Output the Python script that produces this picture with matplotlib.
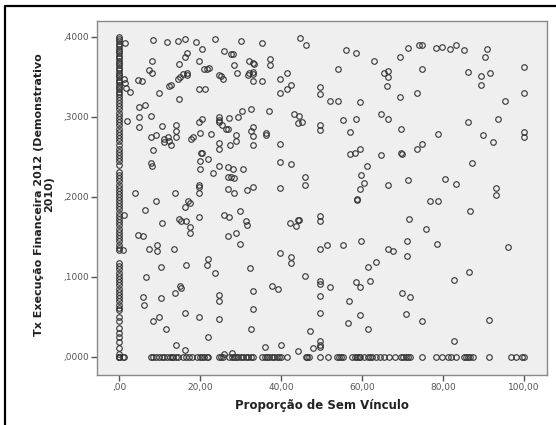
import matplotlib
matplotlib.use("Agg")
import matplotlib.pyplot as plt
from matplotlib.lines import Line2D
from matplotlib.ticker import FuncFormatter

# ---------------- data ----------------
# column of points at x = 0
col_y = [0.400, 0.397, 0.394, 0.391, 0.388, 0.385, 0.382, 0.379, 0.376, 0.373,
         0.370, 0.367, 0.364, 0.361, 0.358, 0.355, 0.352, 0.349, 0.346, 0.343,
         0.340, 0.337, 0.334, 0.331, 0.328, 0.325, 0.321, 0.317, 0.313, 0.309,
         0.305, 0.301, 0.297, 0.293, 0.289, 0.285, 0.281, 0.277, 0.273, 0.270,
         0.264, 0.260, 0.256, 0.252, 0.248, 0.244, 0.240,
         0.231, 0.227, 0.223, 0.219, 0.215, 0.211, 0.207, 0.203, 0.200,
         0.196, 0.192, 0.188, 0.184, 0.180, 0.176, 0.172,
         0.168, 0.164, 0.160, 0.156, 0.152, 0.148, 0.144, 0.140, 0.136, 0.133,
         0.117, 0.113, 0.109, 0.105, 0.101, 0.097, 0.093, 0.089, 0.085, 0.081,
         0.077, 0.073, 0.069, 0.065, 0.061, 0.058,
         0.050, 0.044, 0.036, 0.029, 0.024, 0.018, 0.011, 0.003, 0.0, 0.0]

# row of points at y = 0
row_x = [0.0, 0.0, 1.05, 7.9, 8.5, 9.2, 9.9, 10.5, 11.2, 11.9, 12.5, 13.0, 13.4,
         14.0, 14.6, 15.8, 16.5, 17.3, 18.0, 19.3, 19.9, 20.4, 21.1, 21.7, 22.1,
         24.7, 25.2, 25.6, 27.2, 27.8, 28.3, 28.9, 29.5, 30.1, 30.7, 31.3, 31.8,
         32.5, 33.1, 35.3, 36.0, 36.6, 37.1, 37.7, 38.2, 38.9, 39.5, 40.1, 41.6,
         46.1, 46.5, 47.0, 49.7, 51.5, 53.9, 54.4, 54.8, 55.3, 57.6, 58.2, 58.7,
         59.2, 59.6, 60.4, 61.6, 62.0, 62.5, 63.4, 64.4, 65.5, 66.7, 68.2, 69.6,
         70.2, 70.8, 71.3, 71.9, 74.8, 78.2, 79.8, 81.2, 82.0, 83.2, 85.3, 85.8,
         86.2, 86.7, 87.5, 91.5, 96.8, 98.1, 99.5, 100.0]

# scattered points (x, y)
pts_x = [1.5, 8.4, 11.9, 14.6, 16.4, 19.0, 23.7, 30.2, 35.4, 44.6, 46.2,
         20.4, 25.9, 27.7, 28.2, 16.8, 16.4, 8.1, 19.7, 28.3, 32.1, 33.1, 33.3,
         37.4, 37.4, 56.1, 58.6, 62.9, 69.3, 71.3, 74.0, 74.8, 78.2, 79.8, 81.7,
         83.2, 85.2, 90.8, 90.3, 99.9, 99.9, 74.8, 86.2, 89.3, 91.7, 89.5, 95.4,
         93.5, 86.1, 89.9, 92.3, 100.0, 100.0, 87.3, 93.2, 93.2, 86.7, 96.0,
         86.4, 82.7, 91.5, 82.7, 80.6, 83.2, 78.6, 76.7, 78.7, 75.7, 78.7,
         73.5, 74.8, 73.7, 69.3, 69.7, 69.7, 69.9, 71.3, 71.6, 71.2, 71.2, 69.8,
         71.9, 70.8, 74.8, 66.5, 66.5, 66.1, 65.4, 64.7, 66.5, 64.7, 66.5,
         66.5, 67.7, 63.4, 61.4, 62.1, 61.5, 59.6, 58.6, 59.5, 58.2, 57.0,
         57.0, 61.2, 59.7, 60.6, 59.6, 58.8, 58.9, 59.7, 58.6, 59.6, 56.8,
         59.6, 56.6, 54.2, 52.1, 54.2, 55.3, 49.7, 49.7, 49.7, 49.7, 49.7,
         49.7, 49.7, 51.3, 55.3, 49.7, 49.7, 52.1, 49.7, 49.7, 49.7, 49.7,
         49.7, 47.9, 47.1, 46.0, 46.0, 46.0, 44.2, 44.4, 43.6, 42.3, 42.6,
         42.6, 42.6, 39.8, 39.8, 39.8, 39.8, 37.8, 39.2, 36.1, 39.9, 44.3,
         43.2, 44.4, 44.3, 45.3, 41.6, 42.6, 41.4, 39.8, 39.8, 37.1, 35.4,
         36.2, 36.2, 33.2, 33.2, 33.2, 32.7, 33.1, 33.1, 33.1, 32.5, 31.9,
         32.1, 30.5, 29.2, 29.0, 29.0, 27.1, 29.3, 27.0, 26.5, 27.3, 24.6,
         25.1, 25.8, 24.6, 24.6, 24.8, 25.4, 24.6, 24.6, 22.7, 23.2, 24.8,
         26.8, 28.2, 27.0, 27.7, 28.3, 27.0, 28.3, 30.6, 31.5, 33.1, 29.8,
         25.9, 27.2, 26.9, 29.0, 29.8, 31.3, 31.6, 32.4, 33.1, 33.1, 32.5,
         24.6, 24.6, 24.6, 23.6, 22.0, 21.8, 22.0, 19.7, 19.7, 19.7, 19.8,
         19.7, 19.9, 19.9, 20.3, 20.6, 22.0, 19.9, 19.8, 20.4, 19.7, 21.3,
         21.1, 21.8, 22.2, 17.9, 18.3, 17.0, 17.6, 16.4, 16.5, 17.5, 17.5,
         14.9, 15.4, 16.5, 15.1, 15.3, 13.9, 16.4, 14.0, 16.4, 13.6, 13.9,
         12.8, 14.0, 14.2, 14.2, 14.9, 14.5, 15.1, 15.8, 14.7, 16.7, 16.7,
         9.8, 12.3, 12.9, 12.3, 11.1, 11.2, 12.1, 10.7, 9.2, 7.9, 8.5, 8.0,
         8.2, 8.0, 7.5, 8.2, 4.8, 5.8, 5.0, 6.4, 5.0, 5.0, 2.7, 1.3, 1.9,
         3.9, 6.4, 9.1, 1.3, 4.6, 6.0, 7.5, 9.3, 9.3, 10.7, 10.4, 1.1, 6.6,
         5.9, 6.3, 10.4, 8.5, 9.9, 11.5, 25.9, 28.0, 1.2, 1.6, 1.8]
pts_y = [0.392, 0.396, 0.393, 0.394, 0.397, 0.393, 0.397, 0.395, 0.392, 0.398, 0.389,
         0.385, 0.382, 0.378, 0.378, 0.379, 0.375, 0.370, 0.369, 0.364, 0.370, 0.367, 0.366,
         0.372, 0.365, 0.383, 0.380, 0.370, 0.374, 0.386, 0.389, 0.390, 0.386, 0.3875, 0.384,
         0.389, 0.383, 0.385, 0.375, 0.3625, 0.330, 0.360, 0.356, 0.351, 0.355, 0.340, 0.320,
         0.2975, 0.293, 0.2775, 0.268, 0.281, 0.275, 0.242, 0.211, 0.2025, 0.182, 0.1375,
         0.106, 0.096, 0.046, 0.020, 0.222, 0.216, 0.141, 0.195, 0.195, 0.160, 0.278,
         0.260, 0.266, 0.329, 0.325, 0.284, 0.255, 0.2535, 0.221, 0.172, 0.145, 0.126, 0.079,
         0.074, 0.053, 0.044, 0.357, 0.350, 0.338, 0.354, 0.303, 0.297, 0.252, 0.214,
         0.135, 0.132, 0.118, 0.1125, 0.095, 0.035, 0.318, 0.297, 0.259, 0.255, 0.253,
         0.281, 0.238, 0.227, 0.217, 0.209, 0.196, 0.1965, 0.145, 0.093, 0.0875, 0.070,
         0.052, 0.042, 0.359, 0.320, 0.319, 0.296, 0.3375, 0.328, 0.290, 0.283, 0.176,
         0.170, 0.134, 0.139, 0.139, 0.094, 0.091, 0.087, 0.076, 0.055, 0.019, 0.015,
         0.0125, 0.0104, 0.0325, 0.101, 0.2245, 0.214, 0.171, 0.171, 0.163, 0.167, 0.125,
         0.117, 0.241, 0.243, 0.266, 0.211, 0.130, 0.088, 0.084, 0.0117, 0.0146, 0.0075,
         0.303, 0.301, 0.292, 0.293, 0.354, 0.340, 0.335, 0.347, 0.329, 0.307, 0.345,
         0.280, 0.2775, 0.345, 0.356, 0.353, 0.310, 0.287, 0.276, 0.265, 0.282, 0.352,
         0.355, 0.3075, 0.355, 0.2775, 0.270, 0.298, 0.300, 0.285, 0.284, 0.264, 0.352,
         0.351, 0.347, 0.299, 0.296, 0.293, 0.289, 0.2675, 0.260, 0.278, 0.230, 0.238,
         0.237, 0.234, 0.225, 0.2245, 0.223, 0.210, 0.204, 0.235, 0.208, 0.212, 0.182,
         0.1775, 0.1746, 0.151, 0.154, 0.141, 0.169, 0.164, 0.111, 0.0825, 0.059, 0.035,
         0.077, 0.070, 0.0467, 0.104, 0.122, 0.1146, 0.024, 0.050, 0.1746, 0.215, 0.2125,
         0.205, 0.245, 0.235, 0.254, 0.254, 0.247, 0.279, 0.293, 0.297, 0.335, 0.334,
         0.359, 0.360, 0.361, 0.2717, 0.2746, 0.194, 0.192, 0.187, 0.169, 0.1625, 0.155,
         0.1717, 0.169, 0.114, 0.088, 0.086, 0.079, 0.054, 0.015, 0.0083, 0.134, 0.205,
         0.265, 0.290, 0.282, 0.2746, 0.3225, 0.347, 0.350, 0.353, 0.366, 0.352, 0.355,
         0.330, 0.338, 0.340, 0.270, 0.268, 0.2717, 0.2746, 0.288, 0.2775, 0.2746, 0.258, 0.242,
         0.238, 0.3004, 0.358, 0.354, 0.346, 0.344, 0.3125, 0.314, 0.300, 0.287, 0.331, 0.3475, 0.2946,
         0.204, 0.183, 0.194, 0.177, 0.1525, 0.151, 0.135, 0.140, 0.1325, 0.1675, 0.1125, 0.133, 0.0996,
         0.075, 0.064, 0.073, 0.044, 0.049, 0.035, 0.0033, 0.004, 0.0, 0.342, 0.336]

# axis tick values
x_ticks = [0, 20, 40, 60, 80, 100]
y_ticks = [0.0, 0.1, 0.2, 0.3, 0.4]

xs = [0.0] * len(col_y) + row_x + pts_x
ys = col_y + [0.0] * len(row_x) + pts_y[:len(pts_x)]

# ---------------- figure ----------------
W, H = 556, 425
fig = plt.figure(figsize=(W / 100, H / 100), dpi=100)
fig.patch.set_facecolor("white")

left, right, top, bottom = 97, 547, 20.7, 375
ax = fig.add_axes([left / W, 1 - bottom / H, (right - left) / W, (bottom - top) / H])
ax.set_facecolor("#efefef")

ax.plot(xs, ys, linestyle="none", marker="o", markersize=4.0,
        markerfacecolor="none", markeredgecolor="#333333", markeredgewidth=0.8)

ax.set_xlim(-5.43, 105.7)
ax.set_ylim(-0.0229, 0.42)
ax.set_xticks(x_ticks)
ax.set_yticks(y_ticks)
ax.xaxis.set_major_formatter(FuncFormatter(lambda v, p: f"{v:.2f}".replace(".", ",").lstrip("0") if v == 0 else f"{v:.2f}".replace(".", ",")))
ax.yaxis.set_major_formatter(FuncFormatter(lambda v, p: f"{v:.4f}".replace("0.", ",", 1)))

for s in ax.spines.values():
    s.set_color("#8a8a8a")
    s.set_linewidth(1.0)
ax.tick_params(axis="both", direction="out", length=4, width=1.0, color="#555555",
               labelsize=6.5, labelcolor="#555555", pad=2)

ax.set_xlabel("Proporção de Sem Vínculo", fontsize=8.5, fontweight="bold",
              color="#222222", va="center")
ax.xaxis.set_label_coords(0.5, -30 / (bottom - top))
ax.set_ylabel("Tx Execução Financeira 2012 (Demonstrativo\n2010)", fontsize=8,
              fontweight="bold", color="#222222", ha="center", va="center",
              linespacing=0.95)
ax.yaxis.set_label_coords((44 - left) / (right - left), 0.51)

# outer border (left and top visible)
fig.add_artist(Line2D([5 / W, 5 / W, 1.0], [0.0, 1 - 6 / H, 1 - 6 / H],
                      transform=fig.transFigure, color="black", linewidth=1.6))

fig.savefig("out.png", dpi=100)
